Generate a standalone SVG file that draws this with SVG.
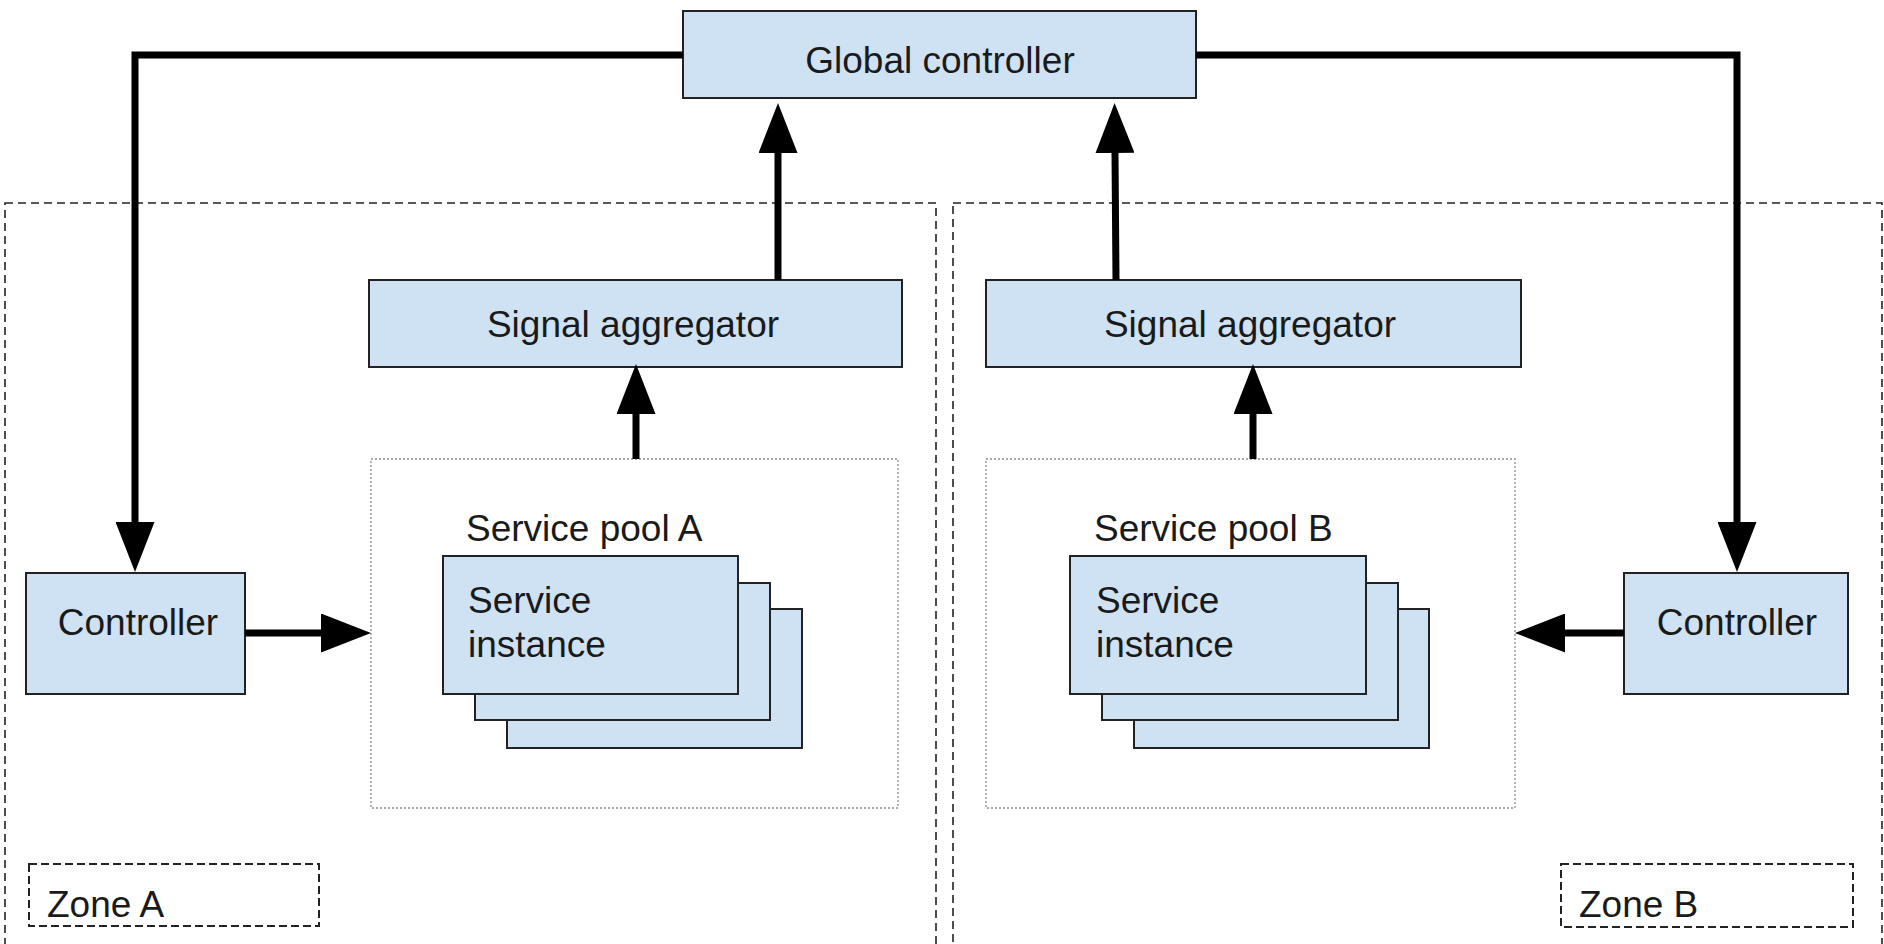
<svg xmlns="http://www.w3.org/2000/svg" width="1884" height="944" viewBox="0 0 1884 944">
  <style>
    .box { fill: #cfe2f3; stroke: #222222; stroke-width: 2; }
    .zone { fill: none; stroke: #222222; stroke-width: 1.6; stroke-dasharray: 8 5; }
    .pool { fill: none; stroke: #8a8a8a; stroke-width: 1.3; stroke-dasharray: 2 2; }
    .tag { fill: none; stroke: #222222; stroke-width: 2; stroke-dasharray: 8 4; }
    .lbl { font-family: "Liberation Sans", Arial, sans-serif; font-size: 37px; fill: #1a1a1a; }
    .wire { fill: none; stroke: #000000; stroke-width: 7; stroke-linejoin: miter; stroke-linecap: butt; }
  </style>
  <defs>
    <marker id="head" markerUnits="userSpaceOnUse" viewBox="0 0 50 39" markerWidth="50" markerHeight="39" refX="0" refY="19.5" orient="auto">
      <path d="M0,0 L50,19.5 L0,39 Z" fill="#000000"/>
    </marker>
  </defs>

  <rect width="1884" height="944" fill="#ffffff"/>

  <!-- zones -->
  <g id="zone-a">
    <rect class="zone" x="5" y="203" width="931" height="760"/>
    <rect class="tag" x="29" y="864" width="290" height="62"/>
    <text class="lbl" x="47" y="917">Zone A</text>
  </g>
  <g id="zone-b">
    <rect class="zone" x="953" y="203" width="929" height="760"/>
    <rect class="tag" x="1561" y="864" width="292" height="63"/>
    <text class="lbl" x="1579" y="917">Zone B</text>
  </g>

  <!-- service pools -->
  <g id="pool-a">
    <rect class="pool" x="371" y="459" width="527" height="349"/>
    <text class="lbl" x="466" y="541">Service pool A</text>
    <rect class="box" x="507" y="609" width="295" height="139"/>
    <rect class="box" x="475" y="583" width="295" height="137"/>
    <rect class="box" x="443" y="556" width="295" height="138"/>
    <text class="lbl" x="468" y="613">Service</text>
    <text class="lbl" x="468" y="657">instance</text>
  </g>
  <g id="pool-b">
    <rect class="pool" x="986" y="459" width="529" height="349"/>
    <text class="lbl" x="1094" y="541">Service pool B</text>
    <rect class="box" x="1134" y="609" width="295" height="139"/>
    <rect class="box" x="1102" y="583" width="296" height="137"/>
    <rect class="box" x="1070" y="556" width="296" height="138"/>
    <text class="lbl" x="1096" y="613">Service</text>
    <text class="lbl" x="1096" y="657">instance</text>
  </g>

  <!-- controllers and aggregators -->
  <g id="global-controller">
    <rect class="box" x="683" y="11" width="513" height="87"/>
    <text class="lbl" x="940" y="73" text-anchor="middle">Global controller</text>
  </g>
  <g id="aggregator-a">
    <rect class="box" x="369" y="280" width="533" height="87"/>
    <text class="lbl" x="633" y="337" text-anchor="middle">Signal aggregator</text>
  </g>
  <g id="aggregator-b">
    <rect class="box" x="986" y="280" width="535" height="87"/>
    <text class="lbl" x="1250" y="337" text-anchor="middle">Signal aggregator</text>
  </g>
  <g id="controller-a">
    <rect class="box" x="26" y="573" width="219" height="121"/>
    <text class="lbl" x="138" y="635" text-anchor="middle">Controller</text>
  </g>
  <g id="controller-b">
    <rect class="box" x="1624" y="573" width="224" height="121"/>
    <text class="lbl" x="1737" y="635" text-anchor="middle">Controller</text>
  </g>

  <!-- connectors -->
  <g id="connectors">
    <path class="wire" d="M683,55 H135 V522" marker-end="url(#head)"/>
    <path class="wire" d="M1196,55 H1737 V522" marker-end="url(#head)"/>
    <path class="wire" d="M778,280 V153" marker-end="url(#head)"/>
    <path class="wire" d="M1116,280 L1115,153" marker-end="url(#head)"/>
    <path class="wire" d="M636,459 V414" marker-end="url(#head)"/>
    <path class="wire" d="M1253,459 V414" marker-end="url(#head)"/>
    <path class="wire" d="M245,633 H321" marker-end="url(#head)"/>
    <path class="wire" d="M1624,633 H1565" marker-end="url(#head)"/>
  </g>
</svg>
